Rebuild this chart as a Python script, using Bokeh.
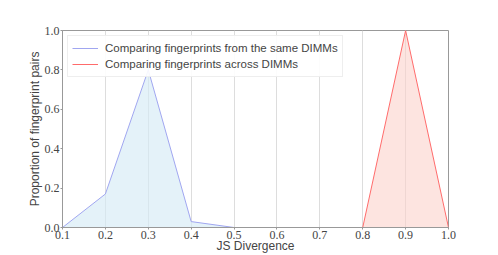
from bokeh.plotting import figure
from bokeh.models import Range1d, Legend, LegendItem, FixedTicker, NumeralTickFormatter
from bokeh.embed import file_html
from bokeh.resources import INLINE

js_div = [0.1, 0.2, 0.3, 0.4, 0.5, 0.6, 0.7, 0.8, 0.9, 1.0]
same_dimm = [0.0, 0.17, 0.80, 0.03, 0.0, 0.0, 0.0, 0.0, 0.0, 0.0]
across_dimm = [0.0, 0.0, 0.0, 0.0, 0.0, 0.0, 0.0, 0.0, 1.0, 0.0]
tick_vals = [0.1, 0.2, 0.3, 0.4, 0.5, 0.6, 0.7, 0.8, 0.9, 1.0]
ytick_vals = [0.0, 0.2, 0.4, 0.6, 0.8, 1.0]

p = figure(frame_width=386, frame_height=197, output_backend="svg", toolbar_location=None,
           x_range=Range1d(0.1, 1.0), y_range=Range1d(0.0, 1.0),
           min_border_left=62, min_border_top=30, min_border_right=42, min_border_bottom=26)

p.varea(x=js_div, y1=[0]*len(js_div), y2=same_dimm, fill_color="#d6ebf6", fill_alpha=0.65)
p.varea(x=js_div, y1=[0]*len(js_div), y2=across_dimm, fill_color="#fbd2cc", fill_alpha=0.6)
l1 = p.line(js_div, same_dimm, line_color="#a0a6f0", line_width=1)
l2 = p.line(js_div, across_dimm, line_color="#ff6b6b", line_width=1)

legend = Legend(items=[LegendItem(label="Comparing fingerprints from the same DIMMs", renderers=[l1]),
                       LegendItem(label="Comparing fingerprints across DIMMs", renderers=[l2])],
                location="top_left")
legend.label_text_font = "Liberation Sans"
legend.label_text_font_size = "11.5px"
legend.label_height = 16
legend.glyph_height = 16
legend.glyph_width = 26
legend.label_standoff = 7
legend.spacing = 0
legend.padding = 4
legend.margin = 5
legend.border_line_color = "#dddddd"
legend.background_fill_alpha = 0.9
p.add_layout(legend)

p.xaxis.ticker = FixedTicker(ticks=tick_vals)
p.yaxis.ticker = FixedTicker(ticks=ytick_vals)
p.xaxis.formatter = NumeralTickFormatter(format="0.0")
p.yaxis.formatter = NumeralTickFormatter(format="0.0")
p.xaxis.axis_label = "JS Divergence"
p.yaxis.axis_label = "Proportion of fingerprint pairs"
for ax in (p.xaxis, p.yaxis):
    ax.axis_label_text_font = "Liberation Sans"
    ax.axis_label_text_font_style = "normal"
    ax.axis_label_text_font_size = "12px"
    ax.axis_label_standoff = 0
    ax.major_label_text_font = "Liberation Serif"
    ax.major_label_text_font_size = "12px"
    ax.major_label_text_color = "#444444"
    ax.major_label_standoff = 1
    ax.axis_line_color = "#999999"
    ax.major_tick_line_color = "#999999"
    ax.major_tick_out = 2
    ax.major_tick_in = 0
    ax.minor_tick_line_color = None
p.xaxis.axis_label_standoff = -3
p.ygrid.grid_line_color = None
p.xgrid.grid_line_color = "#dddddd"
p.outline_line_color = "#999999"

open("out.html", "w").write(file_html(p, INLINE))
